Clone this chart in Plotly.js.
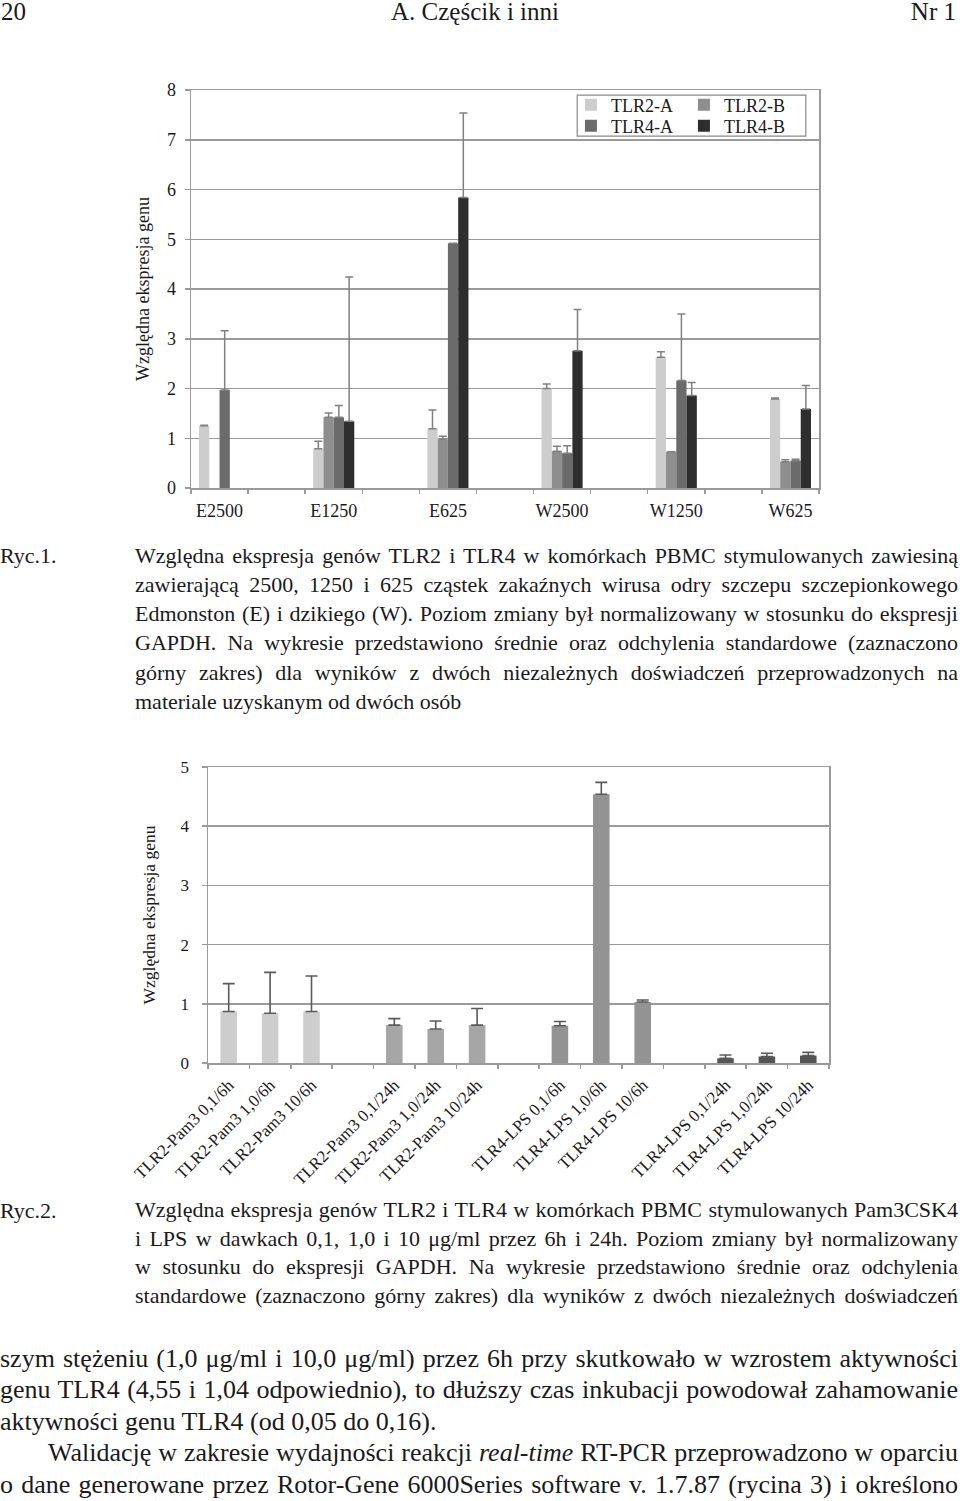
<!DOCTYPE html>
<html>
<head>
<meta charset="utf-8">
<script src="https://cdn.plot.ly/plotly-3.0.1.min.js"></script>
<style>
  html, body { margin:0; padding:0; background:#fff; }
  body { width:960px; height:1501px; position:relative; overflow:hidden;
         font-family:"Liberation Serif","Times New Roman",serif; color:#1a1a1a; }
  .line { position:absolute; white-space:nowrap; }
  #chart1 { position:absolute; left:0; top:60px; width:960px; height:480px; }
  #chart2 { position:absolute; left:0; top:740px; width:960px; height:455px; }
</style>
</head>
<body>
<div id="page"></div>
<div id="chart1"></div>
<div id="chart2"></div>
<script>
// ---------------- DATA: chart 1 ----------------
const cats1 = ['E2500', 'E1250', 'E625', 'W2500', 'W1250', 'W625'];
const series1 = ['TLR2-A', 'TLR2-B', 'TLR4-A', 'TLR4-B'];
const tlr2A    = [1.25, 0.79, 1.19, 2.00, 2.63, 1.79];
const tlr2AErr = [0.01, 0.15, 0.38, 0.09, 0.11, 0.02];
const tlr2B    = [null, 1.42, 0.98, 0.74, 0.73, 0.53];
const tlr2BErr = [null, 0.09, 0.06, 0.10, null, 0.04];
const tlr4A    = [1.97, 1.42, 4.92, 0.70, 2.16, 0.55];
const tlr4AErr = [1.19, 0.24, null, 0.15, 1.34, 0.03];
const tlr4B    = [null, 1.34, 5.84, 2.76, 1.86, 1.59];
const tlr4BErr = [null, 2.90, 1.70, 0.83, 0.26, 0.47];
const yTicks1  = [0, 1, 2, 3, 4, 5, 6, 7, 8];

// ---------------- DATA: chart 2 ----------------
const groups2 = [
  ['TLR2-Pam3 0,1/6h', 'TLR2-Pam3 1,0/6h', 'TLR2-Pam3 10/6h'],
  ['TLR2-Pam3 0,1/24h', 'TLR2-Pam3 1,0/24h', 'TLR2-Pam3 10/24h'],
  ['TLR4-LPS 0,1/6h', 'TLR4-LPS 1,0/6h', 'TLR4-LPS 10/6h'],
  ['TLR4-LPS 0,1/24h', 'TLR4-LPS 1,0/24h', 'TLR4-LPS 10/24h']
];
const vals2 = [
  [0.87, 0.84, 0.87],
  [0.64, 0.575, 0.64],
  [0.63, 4.54, 1.03],
  [0.08, 0.11, 0.125]
];
const errs2 = [
  [0.47, 0.69, 0.60],
  [0.11, 0.135, 0.28],
  [0.07, 0.20, 0.035],
  [0.055, 0.055, 0.055]
];
const yTicks2 = [0, 1, 2, 3, 4, 5];

// ---------------- STYLES ----------------
const colors1 = ['#cdcdcd', '#8e8e8e', '#6b6b6b', '#2e2e2e'];
const colors2 = ['#cdcdcd', '#a6a6a6', '#939393', '#555555'];
const FONT = '"Liberation Serif", "Times New Roman", serif';
const TXT = '#1a1a1a';
const GRID = '#9a9a9a';

// spacer categories between the labelled groups (as in the original Excel charts)
const spacer = n => '\u200b'.repeat(n);

// ---------------- CHART 1 ----------------
const x1 = [];
cats1.forEach((c, i) => { x1.push(c); if (i < cats1.length - 1) x1.push(spacer(i + 1)); });
const spread = arr => { const out = []; arr.forEach((v, i) => { out.push(v); if (i < arr.length - 1) out.push(null); }); return out; };

const vals1 = [tlr2A, tlr2B, tlr4A, tlr4B];
const errs1 = [tlr2AErr, tlr2BErr, tlr4AErr, tlr4BErr];
const legendOf = ['legend', 'legend', 'legend2', 'legend2'];
const traces1 = series1.map((name, k) => ({
  type: 'bar', name: name, x: x1, y: spread(vals1[k]),
  marker: { color: colors1[k], line: { width: 0 } },
  legend: legendOf[k],
  error_y: { type: 'data', symmetric: false, array: spread(errs1[k]),
             arrayminus: spread(errs1[k]).map(() => 0),
             color: '#808080', thickness: 1.5, width: 4 }
}));
// helper trace on an overlaid axis that only carries the category-boundary tick marks
traces1.push({ type: 'scatter', mode: 'none', x: x1, y: x1.map(() => null), xaxis: 'x2', yaxis: 'y',
               showlegend: false, hoverinfo: 'skip' });

const legFont = { size: 18, family: FONT, color: TXT };
const n1 = x1.length;
const layout1 = {
  width: 960, height: 480,
  margin: { l: 191, r: 141, t: 30, b: 52 },
  paper_bgcolor: 'rgba(0,0,0,0)', plot_bgcolor: '#fff',
  barmode: 'group', bargap: 0.28, bargroupgap: 0,
  font: { family: FONT, color: TXT, size: 18 },
  xaxis: {
    type: 'category', categoryorder: 'array', categoryarray: x1, range: [-0.5, n1 - 0.5],
    tickvals: cats1, ticktext: cats1, ticks: '',
    showline: true, linecolor: GRID, linewidth: 1.5, mirror: true, tickangle: 0,
    showgrid: false, tickfont: { size: 18, family: FONT, color: TXT },
    ticklabelstandoff: 6
  },
  xaxis2: {
    type: 'category', categoryorder: 'array', categoryarray: x1, range: [-0.5, n1 - 0.5],
    overlaying: 'x', anchor: 'y', side: 'bottom',
    tickson: 'boundaries', ticks: 'outside', ticklen: 5, tickcolor: GRID, tickwidth: 1.5,
    showticklabels: false, showline: false, showgrid: false, zeroline: false
  },
  yaxis: {
    range: [0, 8], tickvals: yTicks1, ticks: 'outside', ticklen: 5, tickcolor: GRID, tickwidth: 1.5,
    showline: true, linecolor: GRID, linewidth: 1.5, mirror: true,
    showgrid: true, gridcolor: GRID, gridwidth: 1.5, zeroline: false,
    tickfont: { size: 18, family: FONT, color: TXT }, ticklabelstandoff: 5,
    title: { text: 'Względna ekspresja genu', font: { size: 18, family: FONT, color: TXT }, standoff: 12 }
  },
  legend: { orientation: 'h', x: 0.605, y: 1.0088, xanchor: 'left', yanchor: 'top', bgcolor: 'rgba(0,0,0,0)',
            borderwidth: 0, font: legFont, itemwidth: 30, entrywidth: 68, entrywidthmode: 'pixels' },
  legend2: { orientation: 'h', x: 0.605, y: 0.956, xanchor: 'left', yanchor: 'top', bgcolor: 'rgba(0,0,0,0)',
             borderwidth: 0, font: legFont, itemwidth: 30, entrywidth: 68, entrywidthmode: 'pixels' },
  shapes: [{ type: 'rect', xref: 'paper', yref: 'paper', x0: 0.615, x1: 0.979, y0: 0.884, y1: 0.987,
             line: { color: '#8a8a8a', width: 1.2 }, fillcolor: '#ffffff', layer: 'above' }],
  showlegend: true
};
Plotly.newPlot('chart1', traces1, layout1, { staticPlot: true, displayModeBar: false });

// ---------------- CHART 2 ----------------
const x2 = [], y2 = [], e2 = [], c2 = [], labels2 = [];
groups2.forEach((g, gi) => {
  g.forEach((lab, j) => { x2.push(lab); labels2.push(lab); y2.push(vals2[gi][j]); e2.push(errs2[gi][j]); c2.push(colors2[gi]); });
  if (gi < groups2.length - 1) { x2.push(spacer(gi + 1)); y2.push(null); e2.push(null); c2.push(colors2[gi]); }
});
const n2 = x2.length;
const trace2 = {
  type: 'bar', x: x2, y: y2, marker: { color: c2, line: { width: 0 } }, showlegend: false,
  error_y: { type: 'data', symmetric: false, array: e2, arrayminus: e2.map(() => 0),
             color: '#5a5a5a', thickness: 1.6, width: 6 }
};
const trace2b = { type: 'scatter', mode: 'none', x: x2, y: x2.map(() => null), xaxis: 'x2', yaxis: 'y',
                  showlegend: false, hoverinfo: 'skip' };
const layout2 = {
  width: 960, height: 455,
  margin: { l: 208, r: 131, t: 27, b: 132 },
  paper_bgcolor: 'rgba(0,0,0,0)', plot_bgcolor: '#fff',
  bargap: 0.6,
  font: { family: FONT, color: TXT, size: 17 },
  xaxis: {
    type: 'category', categoryorder: 'array', categoryarray: x2, range: [-0.5, n2 - 0.5],
    tickvals: labels2, ticktext: labels2, ticks: '',
    showline: true, linecolor: GRID, linewidth: 1.5, mirror: true,
    showgrid: false, tickangle: -45, tickfont: { size: 17, family: FONT, color: TXT },
    ticklabelstandoff: 4
  },
  xaxis2: {
    type: 'category', categoryorder: 'array', categoryarray: x2, range: [-0.5, n2 - 0.5],
    overlaying: 'x', anchor: 'y', side: 'bottom',
    tickson: 'boundaries', ticks: 'outside', ticklen: 5, tickcolor: GRID, tickwidth: 1.5,
    showticklabels: false, showline: false, showgrid: false, zeroline: false
  },
  yaxis: {
    range: [0, 5], tickvals: yTicks2, ticks: 'outside', ticklen: 5, tickcolor: GRID, tickwidth: 1.5,
    showline: true, linecolor: GRID, linewidth: 1.5, mirror: true,
    showgrid: true, gridcolor: GRID, gridwidth: 1.5, zeroline: false,
    tickfont: { size: 17, family: FONT, color: TXT }, ticklabelstandoff: 9,
    title: { text: 'Względna ekspresja genu', font: { size: 17.5, family: FONT, color: TXT }, standoff: 20 }
  }
};
Plotly.newPlot('chart2', [trace2, trace2b], layout2, { staticPlot: true, displayModeBar: false });

// ---------------- PAGE TEXT ----------------
const header = { left: '20', center: 'A. Częścik i inni', right: 'Nr 1' };
const caption1 = [
  'Względna ekspresja genów TLR2 i TLR4 w komórkach PBMC stymulowanych zawiesiną',
  'zawierającą 2500, 1250 i 625 cząstek zakaźnych wirusa odry szczepu szczepionkowego',
  'Edmonston (E) i dzikiego (W). Poziom zmiany był normalizowany w stosunku do ekspresji',
  'GAPDH. Na wykresie przedstawiono średnie oraz odchylenia standardowe (zaznaczono',
  'górny zakres) dla wyników z dwóch niezależnych doświadczeń przeprowadzonych na',
  'materiale uzyskanym od dwóch osób'
];
const caption2 = [
  'Względna ekspresja genów TLR2 i TLR4 w komórkach PBMC stymulowanych Pam3CSK4',
  'i LPS w dawkach 0,1, 1,0 i 10 μg/ml przez 6h i 24h. Poziom zmiany był normalizowany',
  'w stosunku do ekspresji GAPDH. Na wykresie przedstawiono średnie oraz odchylenia',
  'standardowe (zaznaczono górny zakres) dla wyników z dwóch niezależnych doświadczeń'
];
const body = [
  'szym stężeniu (1,0 μg/ml i 10,0 μg/ml) przez 6h przy skutkowało w wzrostem aktywności',
  'genu TLR4 (4,55 i 1,04 odpowiednio), to dłuższy czas inkubacji powodował zahamowanie',
  'aktywności genu TLR4 (od 0,05 do 0,16).',
  'Walidację w zakresie wydajności reakcji <i>real-time</i> RT-PCR przeprowadzono w oparciu',
  'o dane generowane przez Rotor-Gene 6000Series software v. 1.7.87 (rycina 3) i określono'
];

const page = document.getElementById('page');
function addLine(html, left, centerY, size, lh, right, justify) {
  const d = document.createElement('div');
  d.className = 'line';
  d.innerHTML = html;
  d.style.fontSize = size + 'px';
  d.style.lineHeight = lh + 'px';
  d.style.left = left + 'px';
  d.style.top = (centerY - lh / 2) + 'px';
  page.appendChild(d);
  const target = right - left;
  const w = d.getBoundingClientRect().width;
  if (w > target) {
    d.style.transformOrigin = '0 0';
    d.style.transform = 'scaleX(' + (target / w) + ')';
  } else if (justify) {
    const spaces = (d.textContent.match(/ /g) || []).length;
    if (spaces) d.style.wordSpacing = ((target - w) / spaces) + 'px';
  }
  return d;
}
function addFree(text, left, top, size, lh, align) {
  const d = document.createElement('div');
  d.className = 'line';
  d.textContent = text;
  d.style.fontSize = size + 'px';
  d.style.lineHeight = lh + 'px';
  d.style.top = top + 'px';
  page.appendChild(d);
  const w = d.getBoundingClientRect().width;
  if (align === 'center') d.style.left = (left - w / 2) + 'px';
  else if (align === 'right') d.style.left = (left - w) + 'px';
  else d.style.left = left + 'px';
  return d;
}

// header
addFree(header.left, 1, 0, 25, 24, 'left');
addFree(header.center, 475, 0, 25, 24, 'center');
addFree(header.right, 956, 0, 25, 24, 'right');

// caption 1
addFree('Ryc.1.', 0, 555 - 14.5, 22, 29, 'left');
caption1.forEach((t, i) => addLine(t, 135, 555 + i * 29.3, 22, 29, 958, i < caption1.length - 1));

// caption 2
addFree('Ryc.2.', 0, 1210 - 14.5, 22, 29, 'left');
caption2.forEach((t, i) => addLine(t, 135, 1210 + i * 28.5, 22, 28, 958, true));

// body text
body.forEach((t, i) => {
  const left = (i === 3) ? 48 : 0;
  const justify = (i !== 2);
  addLine(t, left, 1358 + i * 31.6, 26, 31, 958, justify);
});
</script>
</body>
</html>
